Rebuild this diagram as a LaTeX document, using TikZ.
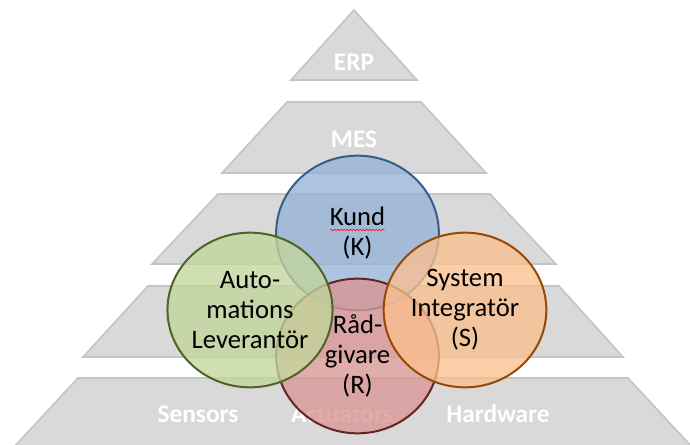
\documentclass[tikz,border=0pt]{standalone}
\usepackage{fontspec}
\setmainfont{Carlito}
\usetikzlibrary{shapes.geometric,decorations.pathmorphing}
\definecolor{layerfill}{RGB}{217,217,217}
\definecolor{layerline}{RGB}{196,196,196}
\definecolor{kundfill}{RGB}{149,179,215}
\definecolor{kundline}{RGB}{56,93,138}
\definecolor{autofill}{RGB}{194,214,155}
\definecolor{autoline}{RGB}{79,98,40}
\definecolor{radfill}{RGB}{217,150,148}
\definecolor{radline}{RGB}{99,37,35}
\definecolor{sysfill}{RGB}{250,192,143}
\definecolor{sysline}{RGB}{152,72,6}

\begin{document}
\begin{tikzpicture}[x=0.75pt,y=-0.75pt,
  layer/.style={fill=layerfill,draw=layerline,line width=1.2pt},
  layertext/.style={text=white,inner sep=0pt,font=\fontsize{19}{22}\selectfont\bfseries},
  party/.style={ellipse,minimum width=122pt,minimum height=116pt,inner sep=0pt,
    line width=1.5pt,fill opacity=0.78,text opacity=1,align=center,
    font=\fontsize{20}{22.5}\selectfont}]
  \useasboundingbox (0,0) rectangle (690,445);

  \draw[layer] (354,10) -- (417,80) -- (291,80) -- cycle;
  \draw[layer] (287,102) -- (421,102) -- (486,173) -- (222,173) -- cycle;
  \draw[layer] (218,194) -- (490,194) -- (556,264) -- (152,264) -- cycle;
  \draw[layer] (148,286) -- (559,286) -- (623,357) -- (83,357) -- cycle;
  \draw[layer] (78,378) -- (628,378) -- (692,447) -- (14,447) -- cycle;

  \node[layertext] (erp) at (354,62) {ERP};
  \node[layertext] (mes) at (354,139) {MES};
  \node[layertext] (sensors)   at (198,414) {Sensors};
  \node[layertext] (actuators) at (342,414) {Actuators};
  \node[layertext] (hardware)  at (498,414) {Hardware};

  \node[party,fill=kundfill,draw=kundline] (kund) at (357.5,233) {Kund\\(K)};
  \node[party,fill=radfill,draw=radline]   (rad)  at (357.5,356) {Råd-\\givare\\(R)};
  \node[party,fill=autofill,draw=autoline] (auto) at (250,310) {Auto-\\mations\\Leverantör};
  \node[party,fill=sysfill,draw=sysline]   (sys)  at (465,310) {System\\Integratör\\(S)};

  \draw[red,line width=0.4pt,decorate,decoration={snake,amplitude=0.6pt,segment length=2.4pt}]
    ([shift={(-27,-3)}]kund.center) -- ([shift={(27,-3)}]kund.center);
\end{tikzpicture}
\end{document}
